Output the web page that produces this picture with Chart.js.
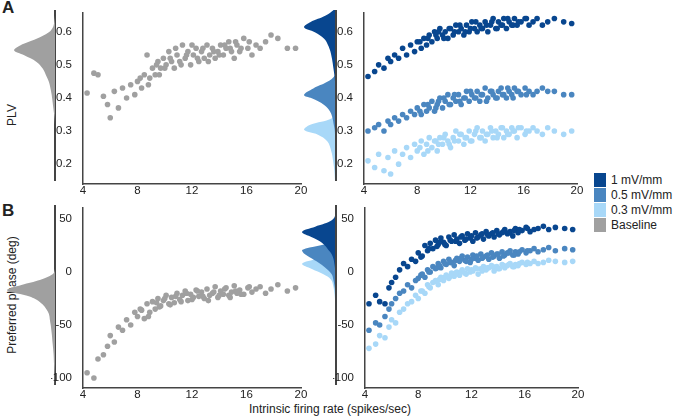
<!DOCTYPE html>
<html><head><meta charset="utf-8">
<script src="https://cdn.jsdelivr.net/npm/chart.js@4/dist/chart.umd.min.js"></script>
<style>
body{margin:0;width:680px;height:419px;background:#fff;position:relative;font-family:"Liberation Sans",Arial,sans-serif;overflow:hidden}
canvas{position:absolute}
.t{position:absolute;color:#222;white-space:nowrap}
.vl{position:absolute;width:1.5px;background:#444}
.lg{position:absolute;left:594px;width:12px;height:14px}
.lt{position:absolute;left:611px;font-size:12px;color:#222}
</style></head><body>
<div class="t" style="left:2px;top:-2px;font-weight:bold;font-size:17px">A</div>
<div class="t" style="left:2px;top:201px;font-weight:bold;font-size:17px">B</div>
<div class="t" style="left:12px;top:115px;font-size:12px;transform:translate(-50%,-50%) rotate(-90deg)">PLV</div>
<div class="t" style="left:12px;top:295px;font-size:12px;transform:translate(-50%,-50%) rotate(-90deg)">Preferred phase (deg)</div>
<div class="t" style="left:330px;top:402px;font-size:12px;transform:translateX(-50%)">Intrinsic firing rate (spikes/sec)</div>
<div class="vl" style="left:54px;top:10px;height:171px"></div>
<div class="vl" style="left:335px;top:10px;height:171px"></div>
<div class="vl" style="left:54px;top:205px;height:180px"></div>
<div class="vl" style="left:335px;top:205px;height:180px"></div>
<div class="lg" style="top:173px;background:#08468f"></div><div class="lt" style="top:173px">1 mV/mm</div>
<div class="lg" style="top:188px;background:#4a86c0"></div><div class="lt" style="top:188px">0.5 mV/mm</div>
<div class="lg" style="top:203px;background:#a8d8f8"></div><div class="lt" style="top:203px">0.3 mV/mm</div>
<div class="lg" style="top:218px;background:#a0a0a0"></div><div class="lt" style="top:218px">Baseline</div>
<canvas id="dA1" style="left:14px;top:10px" width="41" height="171"></canvas>
<canvas id="dA2" style="left:304px;top:10px" width="31" height="171"></canvas>
<canvas id="dB1" style="left:7px;top:205px" width="48" height="180"></canvas>
<canvas id="dB2" style="left:302px;top:205px" width="33" height="180"></canvas>
<canvas id="sA1" style="left:51px;top:3px" width="260" height="199"></canvas>
<canvas id="sA2" style="left:332px;top:3px" width="255" height="199"></canvas>
<canvas id="sB1" style="left:51px;top:198px" width="260" height="208"></canvas>
<canvas id="sB2" style="left:333px;top:198px" width="255" height="208"></canvas>
<script>
const rate=[4.3,4.8,5.1,5.5,5.8,6.0,6.3,6.6,6.9,7.2,7.5,7.8,8.0,8.3,8.5,8.7,8.9,9.1,9.3,9.5,9.7,9.9,10.1,10.3,10.5,10.7,10.9,11.1,11.3,11.5,11.7,11.9,12.1,12.3,12.5,12.7,12.9,13.1,13.3,13.5,13.7,13.9,14.1,14.3,14.5,14.7,14.9,15.1,15.3,15.5,15.8,16.1,16.4,16.7,17.0,17.4,17.8,18.3,19.0,19.6,
8.2,8.8,9.4,9.6,10.0,10.4,10.8,11.2,11.6,12.0,12.4,12.8,13.2,13.6,14.0,14.4,14.8,15.2,15.6,16.2];
const plvBase=[0.415,0.475,0.47,0.405,0.38,0.34,0.42,0.37,0.43,0.40,0.44,0.41,0.45,0.43,0.47,0.53,0.46,0.49,0.47,0.51,0.49,0.52,0.50,0.54,0.51,0.49,0.53,0.51,0.56,0.52,0.54,0.50,0.53,0.55,0.51,0.54,0.52,0.56,0.53,0.55,0.52,0.54,0.56,0.53,0.55,0.57,0.54,0.52,0.56,0.54,0.58,0.55,0.53,0.56,0.55,0.57,0.59,0.58,0.55,0.55,
0.46,0.44,0.50,0.47,0.49,0.52,0.55,0.50,0.53,0.56,0.52,0.55,0.51,0.54,0.53,0.56,0.55,0.57,0.55,0.57];
const plvHigh=[0.465,0.48,0.50,0.49,0.52,0.51,0.53,0.52,0.55,0.53,0.56,0.54,0.57,0.55,0.58,0.56,0.59,0.57,0.60,0.58,0.61,0.59,0.60,0.58,0.61,0.59,0.62,0.60,0.61,0.59,0.62,0.60,0.63,0.61,0.60,0.62,0.61,0.63,0.60,0.62,0.64,0.61,0.63,0.62,0.64,0.61,0.63,0.62,0.64,0.62,0.63,0.64,0.62,0.63,0.64,0.62,0.63,0.64,0.63,0.625,
0.57,0.58,0.59,0.60,0.58,0.61,0.60,0.62,0.60,0.61,0.63,0.61,0.62,0.63,0.61,0.62,0.64,0.62,0.63,0.64];
const plvMid=[0.30,0.31,0.32,0.30,0.33,0.32,0.34,0.33,0.35,0.34,0.36,0.35,0.37,0.35,0.38,0.36,0.37,0.39,0.36,0.38,0.40,0.37,0.39,0.41,0.38,0.40,0.39,0.41,0.38,0.40,0.42,0.39,0.41,0.40,0.42,0.39,0.41,0.43,0.40,0.42,0.41,0.40,0.42,0.43,0.41,0.40,0.42,0.41,0.43,0.42,0.41,0.43,0.42,0.41,0.42,0.43,0.42,0.42,0.41,0.41,
0.36,0.38,0.37,0.39,0.40,0.38,0.41,0.39,0.40,0.42,0.40,0.41,0.39,0.42,0.40,0.41,0.43,0.40,0.42,0.41];
const plvLow=[0.21,0.19,0.23,0.18,0.22,0.17,0.24,0.20,0.23,0.25,0.22,0.26,0.24,0.27,0.23,0.26,0.28,0.25,0.27,0.24,0.28,0.26,0.29,0.27,0.25,0.28,0.30,0.27,0.29,0.26,0.28,0.30,0.27,0.29,0.31,0.28,0.30,0.27,0.29,0.31,0.28,0.30,0.29,0.31,0.28,0.30,0.29,0.31,0.30,0.28,0.31,0.29,0.30,0.31,0.30,0.29,0.31,0.30,0.29,0.30,
0.25,0.24,0.27,0.26,0.28,0.26,0.27,0.29,0.28,0.27,0.30,0.28,0.29,0.30,0.28,0.31,0.29,0.30,0.31,0.30];
const phBase=[-95,-100,-82,-78,-70,-60,-66,-52,-55,-45,-50,-38,-42,-36,-44,-30,-38,-28,-35,-25,-32,-27,-22,-30,-24,-29,-20,-26,-22,-18,-27,-21,-24,-17,-23,-19,-25,-16,-22,-20,-14,-24,-18,-21,-15,-22,-19,-13,-20,-17,-21,-15,-19,-16,-14,-20,-16,-12,-18,-15,
-35,-42,-29,-33,-25,-31,-23,-28,-20,-26,-18,-23,-27,-19,-22,-16,-24,-18,-21,-14];
const phHigh=[-30,-22,-28,-30,-15,-10,-5,2,8,5,12,10,18,15,25,20,27,22,30,26,32,28,25,33,29,35,31,27,34,30,36,32,29,37,33,35,31,38,34,36,33,39,35,37,40,36,38,34,41,37,39,42,38,40,41,43,40,42,41,40,
14,22,24,28,26,30,29,33,31,34,32,36,35,37,36,38,37,39,40,41];
const phMid=[-55,-48,-50,-42,-35,-30,-25,-20,-18,-12,-15,-8,-6,-2,-5,2,0,5,3,8,4,10,7,12,9,6,13,10,15,11,14,9,16,13,11,17,14,15,12,18,15,17,13,19,16,18,20,16,19,17,21,18,20,22,19,21,23,20,22,21,
-3,0,4,6,8,9,11,13,10,12,15,13,16,14,17,15,18,16,19,20];
const phLow=[-72,-68,-60,-62,-52,-45,-48,-38,-35,-30,-28,-22,-25,-18,-20,-12,-15,-10,-8,-12,-5,-8,-3,-6,-1,-4,0,-3,2,-1,3,0,1,4,-2,3,5,2,4,6,1,5,3,7,4,6,8,5,7,6,9,7,8,10,8,9,11,10,9,10,
-18,-14,-9,-7,-5,-4,-1,0,-2,2,3,1,4,5,3,6,7,5,8,9];
const plvLevels=[0.14,0.17,0.20,0.23,0.26,0.28,0.295,0.31,0.33,0.35,0.37,0.39,0.40,0.42,0.44,0.46,0.48,0.50,0.52,0.535,0.55,0.57,0.59,0.605,0.62,0.64,0.66];
const densPlvBase=[0,0,0,0,0,0,0,0,0.01,0.03,0.05,0.07,0.08,0.11,0.15,0.22,0.30,0.45,0.75,1,0.85,0.45,0.15,0.05,0.02,0,0];
const densPlvHigh=[0,0,0,0,0,0,0,0,0,0,0,0,0,0,0,0.02,0.05,0.08,0.12,0.16,0.22,0.35,0.65,1,0.8,0.3,0];
const densPlvMid=[0,0,0,0,0,0,0.01,0.04,0.08,0.16,0.35,0.75,1,0.7,0.25,0,0,0,0,0,0,0,0,0,0,0,0];
const densPlvLow=[0,0.02,0.06,0.12,0.25,0.55,1,0.8,0.1,0,0,0,0,0,0,0,0,0,0,0,0,0,0,0,0,0,0];
const phLevels=[-110,-100,-90,-80,-70,-60,-50,-40,-30,-25,-20,-15,-10,-5,0,5,10,15,18,22,26,30,35,40,45,50,60];
const densPhBase=[0,0.01,0.02,0.03,0.05,0.07,0.1,0.15,0.35,0.6,1,0.7,0.3,0.05,0,0,0,0,0,0,0,0,0,0,0,0,0];
const densPhHigh=[0,0,0,0,0,0,0,0,0,0,0,0,0,0,0,0.02,0.05,0.12,0.2,0.3,0.45,0.7,1,0.6,0.15,0,0];
const densPhMid=[0,0,0,0,0,0,0,0,0,0,0,0.02,0.05,0.1,0.25,0.45,0.7,0.95,1,0.5,0,0,0,0,0,0,0];
const densPhLow=[0,0,0,0,0,0,0,0,0,0.01,0.03,0.06,0.12,0.35,0.7,1,0.5,0,0,0,0,0,0,0,0,0,0];
const C={high:'#08468f',mid:'#4a86c0',low:'#a8d8f8',base:'#a0a0a0'};
const pts=ys=>rate.map((x,i)=>({x,y:ys[i]})).filter(p=>p.y!==undefined);
function scatter(id,sets,ymin,ymax,step){
  new Chart(document.getElementById(id),{type:'scatter',
    data:{datasets:sets.map(([ys,c])=>({data:pts(ys),backgroundColor:c,borderWidth:0,pointRadius:2.8}))},
    options:{responsive:false,animation:false,events:[],layout:{padding:{left:0,right:10,top:0,bottom:0}},
      plugins:{legend:{display:false},tooltip:{enabled:false}},
      scales:{
        x:{type:'linear',min:4,max:20,afterFit:s=>{s.height=18},ticks:{stepSize:4,color:'#222',font:{size:11.5,family:'Liberation Sans'},padding:0},
           grid:{display:false,tickLength:0},border:{color:'#444',width:1.5}},
        y:{min:ymin,max:ymax,afterFit:s=>{s.width=32},afterBuildTicks:s=>{const t=[];for(let v=Math.ceil(ymin/step)*step;v<=ymax+1e-9;v+=step)t.push({value:+v.toFixed(3)});s.ticks=t;},
           ticks:{color:'#222',font:{size:11.5,family:'Liberation Sans'},padding:3,callback:v=>String(+v.toFixed(2))},
           grid:{display:false},border:{color:'#444',width:1.5}}}}});
}
function dens(id,levels,sets,ymin,ymax){
  new Chart(document.getElementById(id),{type:'line',
    data:{datasets:sets.map(([d,c])=>({data:levels.map((y,i)=>({x:d[i],y})),backgroundColor:c,borderWidth:0,pointRadius:0,fill:'origin',tension:0.4}))},
    options:{indexAxis:'y',responsive:false,animation:false,events:[],layout:{padding:0},
      plugins:{legend:{display:false},tooltip:{enabled:false}},
      scales:{x:{type:'linear',min:0,max:1,reverse:true,display:false},y:{type:'linear',min:ymin,max:ymax,display:false}}}});
}
scatter('sA1',[[plvBase,C.base]],0.14,0.657,0.1);
scatter('sA2',[[plvHigh,C.high],[plvMid,C.mid],[plvLow,C.low]],0.14,0.657,0.1);
scatter('sB1',[[phBase,C.base]],-109.4,60.4,50);
scatter('sB2',[[phHigh,C.high],[phMid,C.mid],[phLow,C.low]],-109.4,60.4,50);
dens('dA1',plvLevels,[[densPlvBase,C.base]],0.14,0.657);
dens('dA2',plvLevels,[[densPlvHigh,C.high],[densPlvMid,C.mid],[densPlvLow,C.low]],0.14,0.657);
dens('dB1',phLevels,[[densPhBase,C.base]],-109.4,60.4);
dens('dB2',phLevels,[[densPhHigh,C.high],[densPhMid,C.mid],[densPhLow,C.low]],-109.4,60.4);
</script></body></html>
